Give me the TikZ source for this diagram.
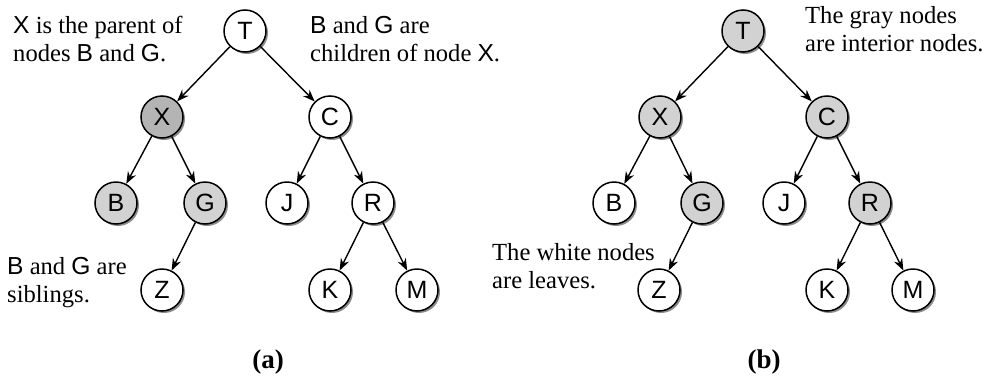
\documentclass[tikz,border=0pt]{standalone}
\usepackage{fontspec}
\setmainfont{Liberation Serif}
\setsansfont{Liberation Sans}
\usetikzlibrary{arrows.meta,positioning,shadows}
\definecolor{treedark}{HTML}{B4B4B4}
\definecolor{treelight}{HTML}{D2D2D2}
\definecolor{treeshadow}{HTML}{8C8C8C}

\begin{document}
\begin{tikzpicture}[x=1pt, y=-1pt,
    treenode/.style={draw, circle, line width=1.5pt, minimum size=42pt, inner sep=0pt,
      fill=white, font=\sffamily\fontsize{25}{25}\selectfont,
      general shadow={shadow xshift=2pt, shadow yshift=-2pt, fill=treeshadow}},
    treeedge/.style={line width=1.4pt, -{Stealth[length=12pt, width=9pt]}},
    remark/.style={align=left, anchor=north west, inner sep=0pt,
      font=\fontsize{24.6}{28}\selectfont},
    caption/.style={font=\bfseries\fontsize{27}{27}\selectfont}]
      \useasboundingbox (0,0) rectangle (984,375);

      % Nodes (a)
      \node[treenode] (aT) at (245,31) {T};
      \node[treenode, fill=treedark] (aX) at (162,117) {X};
      \node[treenode] (aC) at (330,117) {C};
      \node[treenode, fill=treelight] (aB) at (116,203) {B};
      \node[treenode, fill=treelight] (aG) at (205,203) {G};
      \node[treenode] (aJ) at (287,203) {J};
      \node[treenode] (aR) at (373,203) {R};
      \node[treenode] (aZ) at (162,290) {Z};
      \node[treenode] (aK) at (330,290) {K};
      \node[treenode] (aM) at (417,290) {M};

      % Nodes (b)
      \node[treenode, fill=treelight] (bT) at (743,31) {T};
      \node[treenode, fill=treelight] (bX) at (660,117) {X};
      \node[treenode, fill=treelight] (bC) at (827,117) {C};
      \node[treenode] (bB) at (614,203) {B};
      \node[treenode, fill=treelight] (bG) at (702,203) {G};
      \node[treenode] (bJ) at (784,203) {J};
      \node[treenode, fill=treelight] (bR) at (870,203) {R};
      \node[treenode] (bZ) at (659,290) {Z};
      \node[treenode] (bK) at (827,290) {K};
      \node[treenode] (bM) at (913,290) {M};

      % Arrows (a)
      \draw[treeedge] (aT) -- (aX);
      \draw[treeedge] (aT) -- (aC);
      \draw[treeedge] (aX) -- (aB);
      \draw[treeedge] (aX) -- (aG);
      \draw[treeedge] (aC) -- (aJ);
      \draw[treeedge] (aC) -- (aR);
      \draw[treeedge] (aG) -- (aZ);
      \draw[treeedge] (aR) -- (aK);
      \draw[treeedge] (aR) -- (aM);

      % Arrows (b)
      \draw[treeedge] (bT) -- (bX);
      \draw[treeedge] (bT) -- (bC);
      \draw[treeedge] (bX) -- (bB);
      \draw[treeedge] (bX) -- (bG);
      \draw[treeedge] (bC) -- (bJ);
      \draw[treeedge] (bC) -- (bR);
      \draw[treeedge] (bG) -- (bZ);
      \draw[treeedge] (bR) -- (bK);
      \draw[treeedge] (bR) -- (bM);

      % Annotations
      \node[remark] (parentnote) at (13,16) {\textsf{X} is the parent of\\nodes \textsf{B} and \textsf{G}.};
      \node[remark] (childnote) at (310,16) {\textsf{B} and \textsf{G} are\\children of node \textsf{X}.};
      \node[remark] (siblingnote) at (7,257) {\textsf{B} and \textsf{G} are\\siblings.};
      \node[remark] (leafnote) at (492,243) {The white nodes\\are leaves.};
      \node[remark] (interiornote) at (805,6) {The gray nodes\\are interior nodes.};

      % Captions
      \node[caption] (capa) at (268,362) {(a)};
      \node[caption] (capb) at (764,362) {(b)};
    \end{tikzpicture}
\end{document}
